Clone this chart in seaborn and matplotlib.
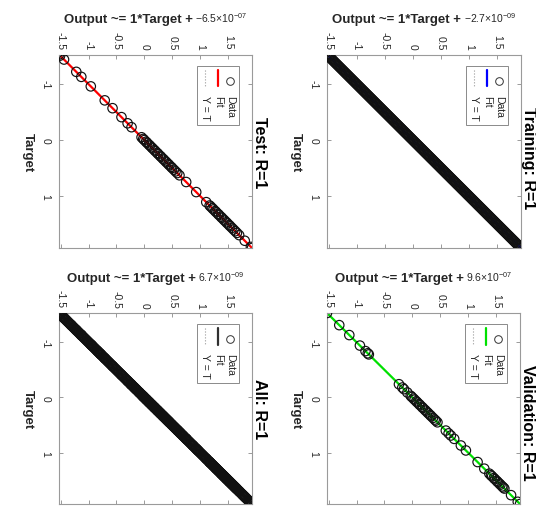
import matplotlib
matplotlib.use("Agg")
import matplotlib.pyplot as plt
import seaborn as sns
import pandas as pd
from matplotlib.patches import Rectangle
from matplotlib.offsetbox import TextArea, HPacker, AnnotationBbox

# ---- data -------------------------------------------------------------
train_target = [
    -1.530, -1.515, -1.500, -1.485, -1.470, -1.455, -1.440, -1.425, -1.410, -1.395,
    -1.380, -1.365, -1.350, -1.335, -1.320, -1.305, -1.290, -1.275, -1.260, -1.245,
    -1.230, -1.215, -1.200, -1.185, -1.170, -1.155, -1.140, -1.125, -1.110, -1.095,
    -1.080, -1.065, -1.050, -1.035, -1.020, -1.005, -0.990, -0.975, -0.960, -0.945,
    -0.930, -0.915, -0.900, -0.885, -0.870, -0.855, -0.840, -0.825, -0.810, -0.795,
    -0.780, -0.765, -0.750, -0.735, -0.720, -0.705, -0.690, -0.675, -0.660, -0.645,
    -0.630, -0.615, -0.600, -0.585, -0.570, -0.555, -0.540, -0.525, -0.510, -0.495,
    -0.480, -0.465, -0.450, -0.435, -0.420, -0.405, -0.390, -0.375, -0.360, -0.345,
    -0.330, -0.315, -0.300, -0.285, -0.270, -0.255, -0.240, -0.225, -0.210, -0.195,
    -0.180, -0.165, -0.150, -0.135, -0.120, -0.105, -0.090, -0.075, -0.060, -0.045,
    -0.030, -0.015, 0.000, 0.015, 0.030, 0.045, 0.060, 0.075, 0.090, 0.105,
    0.120, 0.135, 0.150, 0.165, 0.180, 0.195, 0.210, 0.225, 0.240, 0.255,
    0.270, 0.285, 0.300, 0.315, 0.330, 0.345, 0.360, 0.375, 0.390, 0.405,
    0.420, 0.435, 0.450, 0.465, 0.480, 0.495, 0.510, 0.525, 0.540, 0.555,
    0.570, 0.585, 0.600, 0.615, 0.630, 0.645, 0.660, 0.675, 0.690, 0.705,
    0.720, 0.735, 0.750, 0.765, 0.780, 0.795, 0.810, 0.825, 0.840, 0.855,
    0.870, 0.885, 0.900, 0.915, 0.930, 0.945, 0.960, 0.975, 0.990, 1.005,
    1.020, 1.035, 1.050, 1.065, 1.080, 1.095, 1.110, 1.125, 1.140, 1.155,
    1.170, 1.185, 1.200, 1.215, 1.230, 1.245, 1.260, 1.275, 1.290, 1.305,
    1.320, 1.335, 1.350, 1.365, 1.380, 1.395, 1.410, 1.425, 1.440, 1.455,
    1.470, 1.485, 1.500, 1.515, 1.530, 1.545, 1.560, 1.575, 1.590, 1.605,
    1.620, 1.635, 1.650, 1.665, 1.680, 1.695, 1.710, 1.725, 1.740, 1.755,
    1.770, 1.785, 1.800, 1.815, 1.830, 1.845, 1.860, 1.875, 1.890, 1.905,
    1.920, 1.930,
]
val_target = [
    -1.53, -1.31, -1.13, -0.94, -0.84, -0.80, -0.78, -0.24, -0.18, -0.15,
    -0.09, -0.03, -0.01, 0.02, 0.04, 0.07, 0.09, 0.12, 0.14, 0.17,
    0.19, 0.22, 0.24, 0.27, 0.29, 0.32, 0.34, 0.37, 0.40, 0.42,
    0.45, 0.60, 0.65, 0.69, 0.75, 0.87, 0.96, 1.17, 1.29, 1.38,
    1.41, 1.43, 1.46, 1.48, 1.51, 1.53, 1.56, 1.58, 1.61, 1.63,
    1.65, 1.77, 1.89, 1.93,
]
test_target = [
    -1.53, -1.51, -1.44, -1.22, -1.13, -0.96, -0.71, -0.57, -0.41, -0.30,
    -0.23, -0.05, -0.02, 0.00, 0.03, 0.05, 0.08, 0.10, 0.13, 0.15,
    0.18, 0.20, 0.23, 0.25, 0.28, 0.30, 0.33, 0.35, 0.38, 0.40,
    0.43, 0.45, 0.48, 0.50, 0.53, 0.56, 0.59, 0.63, 0.75, 0.93,
    1.11, 1.17, 1.19, 1.22, 1.24, 1.27, 1.29, 1.32, 1.34, 1.37,
    1.39, 1.42, 1.44, 1.47, 1.49, 1.52, 1.54, 1.57, 1.60, 1.63,
    1.66, 1.70, 1.80, 1.91, 1.93,
]
# network outputs agree with the targets at this precision (R = 1)
train_output = list(train_target)
val_output = list(val_target)
test_output = list(test_target)
all_target = train_target + val_target + test_target
all_output = train_output + val_output + test_output

panel_names = ["Training", "Validation", "Test", "All"]
fit_slope = [1, 1, 1, 1]
fit_offset = [-2.7e-09, 9.6e-07, -6.5e-07, 6.7e-09]
offset_mantissa = ["-2.7", "9.6", "-6.5", "6.7"]
offset_exponent = ["-09", "-07", "-07", "-09"]
r_values = ["1", "1", "1", "1"]
fit_colors = ["#0000ff", "#00e000", "#ff0000", "#303030"]
output_ticks = [-1.5, -1, -0.5, 0, 0.5, 1, 1.5]
output_ticklabels = ["-1.5", "-1", "-0.5", "0", "0.5", "1", "1.5"]
target_ticks = [-1, 0, 1]
target_ticklabels = ["-1", "0", "1"]

targets = [train_target, val_target, test_target, all_target]
outputs = [train_output, val_output, test_output, all_output]

# ---- style -------------------------------------------------------------
sns.set_style("white")
plt.rcParams["font.family"] = ["Liberation Sans", "DejaVu Sans"]
plt.rcParams["mathtext.fontset"] = "custom"
plt.rcParams["mathtext.rm"] = "Liberation Sans"

W, H = 536, 510
fig = plt.figure(figsize=(W / 100, H / 100), dpi=100)
fig.patch.set_facecolor("white")

# panel boxes in pixels: left, top, right, bottom
boxes = {
    "Test": (59, 55.5, 252, 249),
    "Training": (327, 55.5, 521, 249),
    "All": (59, 314, 252, 505),
    "Validation": (327, 314, 520, 505),
}
# where each panel title sits along the panel (axes fraction)
title_pos = {"Test": 0.5, "Training": 0.47, "All": 0.5, "Validation": 0.43}

tick_color = "#262626"
spine_color = "#9a9a9a"

for name, tgt, out, col, slope, off, mant, expo, r in zip(
        panel_names, targets, outputs, fit_colors, fit_slope, fit_offset,
        offset_mantissa, offset_exponent, r_values):
    l, t, rgt, b = boxes[name]
    ax = fig.add_axes([l / W, 1 - b / H, (rgt - l) / W, (b - t) / H])
    lo = min(min(tgt), min(out))
    hi = max(max(tgt), max(out))

    df = pd.DataFrame({"Target": tgt, "Output": out})
    fit_df = pd.DataFrame({"Target": [lo, hi],
                           "Output": [slope * lo + off, slope * hi + off]})
    ident_df = pd.DataFrame({"Target": [lo, hi], "Output": [lo, hi]})

    # horizontal axis carries Output, vertical axis carries Target
    sns.lineplot(data=ident_df, x="Output", y="Target", ax=ax, color="#9a9a9a",
                 linestyle=":", linewidth=0.8, zorder=1, sort=False)
    sns.lineplot(data=fit_df, x="Output", y="Target", ax=ax, color=col,
                 linewidth=1.6, zorder=2, sort=False)
    sns.scatterplot(data=df, x="Output", y="Target", ax=ax, marker="o",
                    s=46, facecolors="none", edgecolor="#111111",
                    linewidth=0.85, zorder=3)

    ax.set_xlim(lo, hi)
    ax.set_ylim(hi, lo)
    ax.set_xlabel("")
    ax.set_ylabel("")
    ax.set_xticks(output_ticks)
    ax.set_xticklabels(output_ticklabels)
    ax.set_yticks(target_ticks)
    ax.set_yticklabels(target_ticklabels)
    ax.tick_params(axis="x", top=True, bottom=True, labeltop=True,
                   labelbottom=False, direction="in", length=3, width=0.6,
                   color="#8a8a8a", labelrotation=-90, pad=4,
                   labelsize=7.5, labelcolor=tick_color)
    ax.tick_params(axis="y", left=True, right=True, direction="in",
                   length=3, width=0.6, color="#8a8a8a", labelrotation=-90,
                   pad=6, labelsize=7.5, labelcolor=tick_color)
    for lab in ax.get_yticklabels():
        lab.set_va("center")
    for sp in ax.spines.values():
        sp.set_color(spine_color)
        sp.set_linewidth(0.8)

    # axis captions, turned with the panel
    ax.text(-0.16, 0.5, "Target", transform=ax.transAxes, rotation=-90,
            ha="center", va="center", fontsize=9.5, fontweight="bold",
            color=tick_color)
    ax.text(1.038, title_pos[name], f"{name}: R={r}", transform=ax.transAxes,
            rotation=-90, ha="center", va="center", fontsize=11.5,
            fontweight="bold", color="black")

    head = TextArea("Output ~= 1*Target +",
                    textprops=dict(fontsize=9.5, fontweight="bold",
                                   color=tick_color))
    num = TextArea(r"$\mathregular{" + mant +
                   r"{\times}10^{" + expo + r"}}$",
                   textprops=dict(fontsize=7.5, color=tick_color))
    pack = HPacker(children=[head, num], align="baseline", pad=0, sep=2)
    ab = AnnotationBbox(pack, (0.5, 1.15), xycoords="axes fraction",
                        box_alignment=(0.5, 0.0), frameon=False,
                        annotation_clip=False)
    ax.add_artist(ab)

    # legend box, laid out in columns running down the panel
    lx0, lx1, ly0, ly1 = 0.716, 0.933, 0.635, 0.94
    ax.add_patch(Rectangle((lx0, ly0), lx1 - lx0, ly1 - ly0,
                           transform=ax.transAxes, facecolor="white",
                           edgecolor="#8a8a8a", linewidth=0.7, zorder=6))
    mark_y = 1 - 0.135
    seg_top, seg_bot = 1 - 0.08, 1 - 0.165
    text_top = 1 - 0.21
    cols = [(0.887, "Data"), (0.826, "Fit"), (0.759, "Y = T")]
    ax.plot([cols[0][0]], [mark_y], transform=ax.transAxes, marker="o",
            markersize=5.5, markerfacecolor="none", markeredgecolor="#333333",
            markeredgewidth=0.7, linestyle="none", zorder=7)
    ax.plot([cols[1][0], cols[1][0]], [seg_top, seg_bot],
            transform=ax.transAxes, color=col, linewidth=1.6, zorder=7)
    ax.plot([cols[2][0], cols[2][0]], [seg_top, seg_bot],
            transform=ax.transAxes, color="#9a9a9a", linestyle=":",
            linewidth=0.8, zorder=7)
    for cx, lab in cols:
        ax.text(cx, text_top, lab, transform=ax.transAxes, rotation=-90,
                ha="center", va="top", fontsize=7.5, color=tick_color,
                zorder=8)

fig.savefig("out.png", dpi=100, facecolor="white")
